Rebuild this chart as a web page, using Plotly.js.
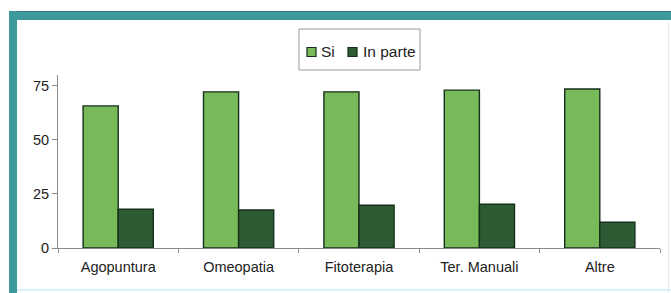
<!DOCTYPE html>
<html>
<head>
<meta charset="utf-8">
<script src="https://cdn.plot.ly/plotly-3.0.1.min.js"></script>
<style>
  html, body { margin: 0; padding: 0; background: #ffffff; }
  #wrap { position: relative; width: 671px; height: 293px; overflow: hidden; background: #ffffff; }
  #frameTop { position: absolute; left: 9px; top: 11px; width: 662px; height: 9px; background: #3c9a9c; border-top: 1px solid #2f7f78; box-sizing: border-box; }
  #frameLeft { position: absolute; left: 9px; top: 11px; width: 8px; height: 282px; background: #3c9a9c; }
  #frameBottom { position: absolute; left: 17px; top: 289px; width: 654px; height: 2px; background: #d6f2f4; }
  #frameRight { position: absolute; left: 668px; top: 20px; width: 1px; height: 273px; background: #e4eeee; }
  #chart { position: absolute; left: 0; top: 0; width: 671px; height: 293px; }
</style>
</head>
<body>
<div id="wrap">
  <div id="frameTop"></div>
  <div id="frameLeft"></div>
  <div id="frameBottom"></div>
  <div id="frameRight"></div>
  <div id="chart"></div>
</div>
<script>
const categories = ["Agopuntura", "Omeopatia", "Fitoterapia", "Ter. Manuali", "Altre"];
const siValues = [65.7, 72.2, 72.2, 73.0, 73.5];
const inParteValues = [17.9, 17.6, 19.8, 20.2, 11.9];
const seriesNames = ["Si", "In parte"];
const seriesColors = ["#78b95a", "#2d5b33"];
const yTickVals = [0, 25, 50, 75];

const W = 671, H = 293;
const M = { l: 58, r: 11, t: 75, b: 45 };
const pw = W - M.l - M.r, ph = H - M.t - M.b;
function px2x(x) { return (x - M.l) / pw; }
function px2y(y) { return (H - M.b - y) / ph; }

const outline = "#15301a";

const traces = [
  {
    type: "bar", name: seriesNames[0], x: categories, y: siValues,
    marker: { color: seriesColors[0], line: { color: outline, width: 1.4 } },
    hoverinfo: "skip", showlegend: false
  },
  {
    type: "bar", name: seriesNames[1], x: categories, y: inParteValues,
    marker: { color: seriesColors[1], line: { color: outline, width: 1.4 } },
    hoverinfo: "skip", showlegend: false
  }
];

// legend drawn with library shapes + annotations (box, swatches, labels)
const legendSwatchX = [307, 348];
const legendTextX = [319, 361];
const legendY = 52;
const sw = 9;

const shapes = [
  {
    type: "rect", xref: "paper", yref: "paper",
    x0: px2x(299), x1: px2x(420), y0: px2y(70), y1: px2y(29),
    line: { color: "#9a9a9a", width: 1 },
    fillcolor: "rgba(0,0,0,0)"
  }
];
const annotations = [];
seriesNames.forEach(function (name, i) {
  shapes.push({
    type: "rect", xref: "paper", yref: "paper",
    x0: px2x(legendSwatchX[i]), x1: px2x(legendSwatchX[i] + sw),
    y0: px2y(legendY + sw / 2), y1: px2y(legendY - sw / 2),
    line: { color: outline, width: 1.2 },
    fillcolor: seriesColors[i]
  });
  annotations.push({
    xref: "paper", yref: "paper",
    x: px2x(legendTextX[i]), y: px2y(legendY),
    xanchor: "left", yanchor: "middle",
    text: name, showarrow: false,
    font: { size: 15.5, color: "#222222" }
  });
});

const layout = {
  width: W, height: H,
  margin: M,
  paper_bgcolor: "rgba(0,0,0,0)",
  plot_bgcolor: "rgba(0,0,0,0)",
  font: { family: "Liberation Sans, Arial, sans-serif", color: "#222222", size: 14.5 },
  barmode: "group",
  bargap: 0.417,
  bargroupgap: 0,
  showlegend: false,
  xaxis: {
    type: "category",
    showgrid: false,
    showline: true, linecolor: "#8a8a8a", linewidth: 1,
    ticks: "outside", ticklen: 4, tickcolor: "#8a8a8a",
    tickson: "boundaries",
    ticklabelstandoff: 6,
    tickfont: { size: 14.5, color: "#222222" },
    zeroline: false,
    fixedrange: true
  },
  yaxis: {
    range: [0, 80],
    tickvals: yTickVals,
    ticktext: yTickVals.map(String),
    showgrid: false,
    showline: true, linecolor: "#8a8a8a", linewidth: 1,
    ticks: "outside", ticklen: 5, tickcolor: "#8a8a8a",
    tickfont: { size: 14.5, color: "#222222" },
    zeroline: false,
    fixedrange: true
  },
  shapes: shapes,
  annotations: annotations
};

Plotly.newPlot("chart", traces, layout, { displayModeBar: false, staticPlot: true });
</script>
</body>
</html>
